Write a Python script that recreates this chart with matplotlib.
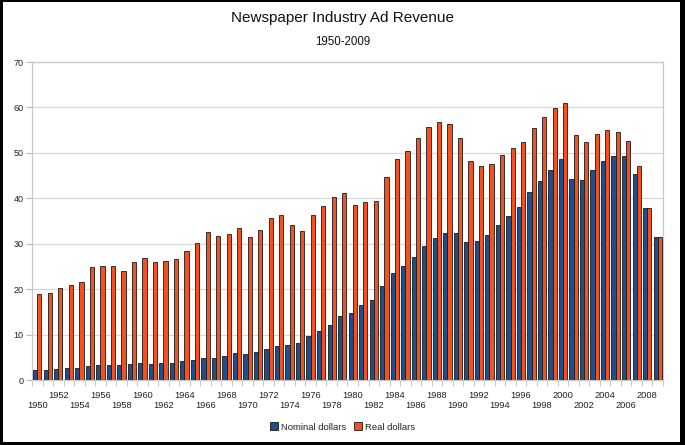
import numpy as np
import matplotlib
matplotlib.use('Agg')
import matplotlib.pyplot as plt
from matplotlib.patches import Rectangle

plt.rcParams['font.family'] = ['Liberation Sans', 'DejaVu Sans']

# data (billions of dollars)
years = list(range(1950, 2010))
nominal = [2.1, 2.3, 2.5, 2.6, 2.7, 3.1, 3.2, 3.3, 3.2, 3.5,
           3.7, 3.6, 3.7, 3.8, 4.2, 4.5, 4.9, 4.9, 5.2, 5.9,
           5.7, 6.2, 6.9, 7.5, 7.8, 8.2, 9.6, 10.8, 12.2, 14.0,
           14.8, 16.5, 17.7, 20.6, 23.5, 25.2, 27.0, 29.4, 31.2, 32.4,
           32.3, 30.4, 30.6, 31.9, 34.1, 36.1, 38.1, 41.3, 43.9, 46.3,
           48.7, 44.3, 44.1, 46.2, 48.2, 49.4, 49.3, 45.4, 37.8, 31.5]
real = [18.9, 19.1, 20.3, 21.0, 21.6, 24.9, 25.2, 25.2, 23.9, 25.9,
        26.9, 25.9, 26.3, 26.7, 28.4, 30.1, 32.6, 31.6, 32.2, 33.4,
        31.5, 33.0, 35.6, 36.3, 34.1, 32.8, 36.3, 38.3, 40.3, 41.1,
        38.6, 39.1, 39.4, 44.6, 48.7, 50.4, 53.2, 55.7, 56.8, 56.4,
        53.2, 48.1, 47.1, 47.5, 49.5, 51.0, 52.3, 55.5, 58.0, 59.9,
        61.0, 53.9, 52.3, 54.1, 55.0, 54.5, 52.7, 47.2, 37.8, 31.5]

blue = '#1d4f8c'
orange = '#f5511e'

fig = plt.figure(figsize=(6.85, 4.45), dpi=100, facecolor='black')
# white card inside the black frame
fig.add_artist(Rectangle((3/685, 3/445), 677/685, 440/445, transform=fig.transFigure,
                         facecolor='white', edgecolor='none', zorder=0))

ax = fig.add_axes([32/685, 1 - 380/445, 631/685, 318/445])
x = np.arange(len(years))
w = 0.4
ax.bar(x - 0.2, nominal, w, color=blue, edgecolor='#1a1a1a', linewidth=0.6,
       label='Nominal dollars', zorder=3)
ax.bar(x + 0.2, real, w, color=orange, edgecolor='#1a1a1a', linewidth=0.6,
       label='Real dollars', zorder=3)

ax.set_xlim(-0.5, len(years) - 0.5)
ax.set_ylim(0, 70)
ax.set_yticks(range(0, 71, 10))
ax.yaxis.grid(True, color='#d8d8d8', linewidth=0.9, zorder=0)
ax.tick_params(axis='y', length=4, color='#bbbbbb', labelsize=6.5, pad=2, labelcolor='#222222')

# year labels on two staggered rows, tick marks at category borders
labels = []
for y in years:
    if (y - 1950) % 4 == 0:
        labels.append('\n' + str(y))
    elif (y - 1950) % 2 == 0:
        labels.append(str(y))
    else:
        labels.append('')
ax.set_xticks(x)
ax.set_xticklabels(labels, fontsize=6.7, color='#222222', linespacing=1.1)
ax.tick_params(axis='x', which='major', length=0, pad=8)
ax.set_xticks(np.arange(-0.5, len(years)), minor=True)
ax.tick_params(axis='x', which='minor', length=4, color='#bbbbbb')

for s in ax.spines.values():
    s.set_color('#c8c8c8')
    s.set_linewidth(0.9)

fig.text(0.5, 1 - 18/445, 'Newspaper Industry Ad Revenue', ha='center', va='center',
         fontsize=11, color='#111111')
fig.text(0.5, 1 - 42/445, '1950-2009', ha='center', va='center', fontsize=8.3, color='#111111')

fig.legend(loc='center', bbox_to_anchor=(0.5, 1 - 427/445), ncol=2, frameon=False,
           fontsize=6.8, handlelength=0.9, handleheight=0.9, handletextpad=0.3,
           columnspacing=0.8, labelcolor='#222222')

fig.savefig('out.png', dpi=100, facecolor=fig.get_facecolor())
